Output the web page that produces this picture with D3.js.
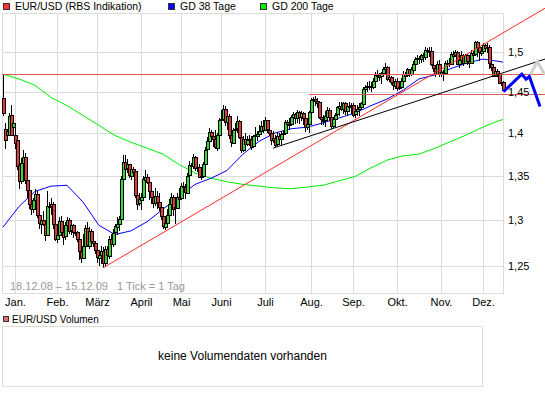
<!DOCTYPE html>
<html>
<head>
<meta charset="utf-8">
<script src="https://cdnjs.cloudflare.com/ajax/libs/d3/7.8.5/d3.min.js"></script>
<style>
body { margin: 0; background: #fff; }
svg { display: block; font-family: "Liberation Sans", Arial, sans-serif; }
</style>
</head>
<body>
<div id="chart"></div>
<script>
// EUR/USD daily candles, 18.12.08 - 15.12.09 (one entry per trading day)
const opens = [
  1.442,1.405,1.402,1.398,1.422,1.407,
  1.398,1.392,1.362,1.344,1.365,1.372,1.345,1.334,1.318,1.312,1.322,1.329,1.305,1.296,1.300,1.296,1.284,1.316,1.316,1.318,1.296,
  1.280,1.284,1.299,1.287,1.282,1.294,1.300,1.288,1.294,1.286,1.287,1.279,1.266,1.258,1.271,1.291,1.272,1.288,1.277,1.275,
  1.267,1.259,1.262,1.266,1.253,1.268,1.261,1.279,1.274,1.286,1.293,1.296,1.301,1.346,1.366,1.358,1.363,1.350,1.358,1.355,1.328,1.318,
  1.323,1.326,1.346,1.349,1.343,1.333,1.326,1.319,1.327,1.320,1.314,1.304,1.293,1.297,1.306,1.318,1.326,1.313,1.314,1.326,
  1.324,1.338,1.337,1.331,1.350,1.362,1.361,1.372,1.359,1.360,1.349,1.350,1.364,1.380,1.390,1.401,1.396,1.393,1.383,1.398,
  1.416,1.417,1.429,1.413,1.420,1.397,1.389,1.404,1.405,1.414,1.395,1.380,1.393,1.387,1.392,1.393,1.384,1.396,1.397,1.399,1.402,1.408,
  1.403,1.415,1.404,1.400,1.392,1.394,1.386,1.396,1.393,1.399,1.400,1.413,1.411,1.411,1.419,1.423,1.418,1.425,1.419,1.424,1.418,1.407,1.411,
  1.425,1.440,1.441,1.439,1.437,1.419,1.416,1.415,1.420,1.428,1.419,1.408,1.417,1.422,1.431,1.433,1.429,1.436,1.426,1.432,1.433,
  1.434,1.422,1.426,1.429,1.431,1.436,1.454,1.456,1.457,1.457,1.456,1.464,1.471,1.471,1.469,1.473,1.478,1.481,1.466,1.468,1.462,1.458,
  1.464,1.455,1.456,1.463,1.472,1.470,1.478,1.472,1.478,1.485,1.491,1.492,1.491,1.496,1.493,1.502,1.501,1.501,1.484,1.480,1.473,1.485,
  1.472,1.475,1.474,1.486,1.486,1.485,1.498,1.496,1.500,1.485,1.490,1.496,1.486,1.496,1.489,1.486,1.499,1.497,1.513,1.506,1.499,
  1.501,1.509,1.505,1.506,1.485,1.481,1.470,1.476,1.472,1.461,1.462
];
const highs = [
  1.472,1.412,1.405,1.424,1.434,1.414,
  1.409,1.394,1.366,1.370,1.380,1.376,1.348,1.336,1.324,1.325,1.335,1.333,1.311,1.305,1.310,1.298,1.333,1.320,1.325,1.320,1.300,
  1.290,1.303,1.304,1.290,1.298,1.303,1.302,1.298,1.296,1.292,1.288,1.280,1.270,1.285,1.294,1.298,1.292,1.290,1.283,1.277,
  1.270,1.265,1.272,1.270,1.272,1.272,1.282,1.285,1.290,1.296,1.303,1.304,1.350,1.374,1.374,1.369,1.364,1.362,1.360,1.356,1.330,1.330,
  1.330,1.350,1.357,1.352,1.345,1.336,1.330,1.336,1.332,1.330,1.318,1.306,1.302,1.312,1.323,1.330,1.328,1.320,1.330,1.336,
  1.342,1.343,1.340,1.353,1.367,1.365,1.375,1.373,1.367,1.364,1.356,1.366,1.383,1.395,1.406,1.404,1.400,1.403,1.400,1.418,
  1.428,1.434,1.433,1.424,1.423,1.399,1.406,1.412,1.420,1.415,1.396,1.396,1.400,1.396,1.398,1.396,1.398,1.407,1.402,1.410,1.414,1.416,
  1.419,1.416,1.408,1.402,1.402,1.398,1.401,1.400,1.402,1.404,1.416,1.416,1.418,1.422,1.425,1.424,1.428,1.427,1.426,1.425,1.419,1.418,1.427,
  1.442,1.444,1.445,1.442,1.439,1.421,1.422,1.426,1.431,1.430,1.420,1.418,1.424,1.433,1.437,1.437,1.438,1.437,1.434,1.437,1.436,
  1.436,1.430,1.434,1.436,1.438,1.456,1.458,1.462,1.463,1.462,1.467,1.475,1.477,1.474,1.475,1.481,1.486,1.482,1.472,1.470,1.465,1.466,
  1.467,1.462,1.467,1.476,1.475,1.480,1.479,1.481,1.488,1.494,1.496,1.495,1.497,1.499,1.506,1.505,1.506,1.506,1.487,1.482,1.488,1.490,
  1.482,1.477,1.488,1.490,1.492,1.500,1.501,1.503,1.501,1.492,1.501,1.497,1.498,1.498,1.492,1.502,1.501,1.514,1.514,1.508,1.505,
  1.511,1.510,1.511,1.509,1.486,1.483,1.478,1.478,1.476,1.465,1.463
];
const lows = [
  1.420,1.381,1.392,1.396,1.396,1.402,
  1.381,1.357,1.335,1.340,1.358,1.340,1.325,1.312,1.306,1.308,1.312,1.302,1.290,1.285,1.293,1.277,1.283,1.300,1.305,1.290,1.277,
  1.275,1.280,1.282,1.273,1.278,1.290,1.285,1.283,1.280,1.282,1.276,1.256,1.253,1.257,1.262,1.270,1.268,1.270,1.270,1.263,
  1.253,1.250,1.252,1.248,1.250,1.256,1.258,1.268,1.270,1.282,1.284,1.288,1.298,1.342,1.352,1.353,1.347,1.345,1.350,1.325,1.311,1.315,
  1.311,1.322,1.338,1.340,1.322,1.318,1.313,1.316,1.312,1.310,1.300,1.290,1.289,1.292,1.302,1.313,1.304,1.296,1.312,1.318,
  1.322,1.332,1.323,1.330,1.343,1.350,1.358,1.355,1.354,1.347,1.345,1.348,1.362,1.378,1.388,1.393,1.383,1.381,1.379,1.396,
  1.412,1.415,1.408,1.403,1.393,1.383,1.388,1.397,1.400,1.393,1.376,1.378,1.385,1.384,1.385,1.380,1.382,1.393,1.390,1.396,1.400,1.400,
  1.402,1.400,1.396,1.386,1.388,1.383,1.385,1.388,1.386,1.392,1.398,1.405,1.404,1.409,1.414,1.411,1.412,1.411,1.414,1.410,1.401,1.404,1.400,
  1.422,1.436,1.433,1.430,1.417,1.410,1.410,1.407,1.417,1.414,1.405,1.406,1.408,1.418,1.420,1.426,1.423,1.422,1.420,1.428,1.423,
  1.419,1.418,1.421,1.420,1.429,1.434,1.446,1.450,1.452,1.450,1.454,1.462,1.467,1.463,1.460,1.468,1.472,1.464,1.462,1.458,1.452,1.453,
  1.451,1.452,1.453,1.461,1.465,1.468,1.469,1.470,1.476,1.483,1.487,1.485,1.486,1.487,1.490,1.493,1.494,1.482,1.475,1.468,1.471,1.469,
  1.468,1.463,1.471,1.479,1.481,1.484,1.490,1.493,1.484,1.480,1.488,1.482,1.485,1.483,1.480,1.485,1.491,1.496,1.494,1.488,1.495,
  1.499,1.501,1.499,1.478,1.476,1.468,1.468,1.468,1.460,1.457,1.451
];
const closes = [
  1.424,1.392,1.397,1.421,1.398,1.412,
  1.388,1.362,1.344,1.365,1.372,1.345,1.334,1.318,1.312,1.322,1.329,1.305,1.296,1.300,1.296,1.284,1.316,1.316,1.318,1.296,1.280,
  1.284,1.299,1.287,1.282,1.294,1.300,1.288,1.294,1.286,1.287,1.279,1.266,1.258,1.271,1.291,1.272,1.288,1.277,1.275,1.267,
  1.259,1.262,1.266,1.253,1.268,1.261,1.279,1.274,1.286,1.293,1.296,1.301,1.346,1.366,1.358,1.363,1.350,1.358,1.355,1.328,1.318,1.323,
  1.326,1.346,1.349,1.343,1.333,1.326,1.319,1.327,1.320,1.314,1.304,1.293,1.297,1.306,1.318,1.326,1.313,1.314,1.326,1.324,
  1.338,1.337,1.331,1.350,1.362,1.361,1.372,1.359,1.360,1.349,1.350,1.364,1.380,1.390,1.401,1.396,1.393,1.383,1.398,1.416,
  1.417,1.429,1.413,1.420,1.397,1.389,1.404,1.405,1.414,1.395,1.380,1.393,1.387,1.392,1.393,1.384,1.396,1.397,1.399,1.402,1.408,1.403,
  1.415,1.404,1.400,1.392,1.394,1.386,1.396,1.393,1.399,1.400,1.413,1.411,1.411,1.419,1.423,1.418,1.425,1.419,1.424,1.418,1.407,1.411,1.425,
  1.440,1.441,1.439,1.437,1.419,1.416,1.415,1.420,1.428,1.419,1.408,1.417,1.422,1.431,1.433,1.429,1.436,1.426,1.432,1.433,1.434,
  1.422,1.426,1.429,1.431,1.436,1.454,1.456,1.457,1.457,1.456,1.464,1.471,1.471,1.469,1.473,1.478,1.481,1.466,1.468,1.462,1.458,1.464,
  1.455,1.456,1.463,1.472,1.470,1.478,1.472,1.478,1.485,1.491,1.492,1.491,1.496,1.493,1.502,1.501,1.501,1.484,1.480,1.473,1.485,1.472,
  1.475,1.474,1.486,1.486,1.485,1.498,1.496,1.500,1.485,1.490,1.496,1.486,1.496,1.489,1.486,1.499,1.497,1.513,1.506,1.499,1.501,
  1.509,1.505,1.506,1.485,1.481,1.470,1.476,1.472,1.461,1.462,1.452
];

// first trading day of each month (index into the arrays above)
const monthIdx = [6, 27, 47, 69, 89, 109, 131, 154, 175, 197, 219, 240];
const monthLabels = ['Jan.', 'Feb.', 'März', 'April', 'Mai', 'Juni', 'Juli', 'Aug.', 'Sep.', 'Okt.', 'Nov.', 'Dez.'];
const yTicks = [1.25, 1.3, 1.35, 1.4, 1.45, 1.5];

// moving averages, read every 8th trading day
const maIdx = [0,8,16,24,32,40,48,56,64,72,80,88,96,104,112,120,128,136,144,152,160,168,176,184,192,200,208,216,224,232,240,248,250];
const gd38 = [1.292,1.315,1.332,1.338,1.339,1.320,1.294,1.284,1.288,1.298,1.312,1.326,1.340,1.347,1.356,1.375,1.390,
  1.400,1.405,1.407,1.412,1.418,1.424,1.433,1.441,1.452,1.466,1.471,1.479,1.486,1.491,1.488,1.487];
const gd200 = [1.472,1.466,1.458,1.443,1.433,1.421,1.409,1.397,1.389,1.382,1.375,1.363,1.353,1.347,1.343,1.340,1.338,
  1.336,1.335,1.337,1.339,1.344,1.349,1.359,1.368,1.373,1.375,1.382,1.390,1.398,1.407,1.415,1.416];

// drawn annotations: [tick, price]
const levelLines = [[-0.5, 1.4722], [153, 1.447]];
const trendRed = [[50, 1.248], [271, 1.557]];
const trendBlack = [[135, 1.382], [271, 1.491]];
const projBlue = [[250.2, 1.450], [259.4, 1.472], [261.5, 1.4656], [263.2, 1.469], [268.5, 1.432]];
const projGray = [[263.5, 1.4709], [267.2, 1.4877], [271, 1.4709]];

const W = 545, H = 395;
const plotL = 2, plotR = 503, plotT = 13, plotB = 293;
const lastTick = 271;

const svg = d3.select('#chart').append('svg')
    .attr('width', W)
    .attr('height', H);

const x = d3.scaleLinear().domain([0, 250]).range([3, 503]);
const y = d3.scaleLog().domain([1.25, 1.5]).range([266, 52]);

// grid
const grid = svg.append('g')
    .attr('stroke', '#dcdcdc')
    .attr('shape-rendering', 'crispEdges');

grid.selectAll('.hg').data(yTicks).enter().append('line')
    .attr('x1', plotL).attr('x2', plotR)
    .attr('y1', d => Math.round(y(d)) + 0.5)
    .attr('y2', d => Math.round(y(d)) + 0.5);

grid.selectAll('.vg').data(monthIdx).enter().append('line')
    .attr('x1', d => Math.round(x(d)) + 0.5)
    .attr('x2', d => Math.round(x(d)) + 0.5)
    .attr('y1', plotT).attr('y2', plotB);

grid.append('rect')
    .attr('x', plotL + 0.5).attr('y', plotT + 0.5)
    .attr('width', plotR - plotL).attr('height', plotB - plotT)
    .attr('fill', 'none');

// moving averages
const maLine = d3.line()
    .x(d => x(d[0]))
    .y(d => y(d[1]));

svg.append('path')
    .datum(maIdx.map((d, i) => [d, gd200[i]]))
    .attr('d', maLine)
    .attr('fill', 'none')
    .attr('stroke', '#00ee00')
    .attr('stroke-width', 1);

svg.append('path')
    .datum(maIdx.map((d, i) => [d, gd38[i]]))
    .attr('d', maLine)
    .attr('fill', 'none')
    .attr('stroke', '#0000ff')
    .attr('stroke-width', 1);

// candles
const candles = svg.append('g')
    .attr('shape-rendering', 'crispEdges');

const days = d3.range(closes.length);

candles.selectAll('.wick').data(days).enter().append('line')
    .attr('x1', i => Math.round(x(i)) + 0.5)
    .attr('x2', i => Math.round(x(i)) + 0.5)
    .attr('y1', i => y(highs[i]))
    .attr('y2', i => y(lows[i]))
    .attr('stroke', '#000');

candles.selectAll('.body').data(days).enter().append('rect')
    .attr('x', i => Math.round(x(i)) - 0.5)
    .attr('width', 3)
    .attr('y', i => Math.round(Math.min(y(opens[i]), y(closes[i]))) + 0.5)
    .attr('height', i => Math.max(1, Math.round(Math.abs(y(opens[i]) - y(closes[i])))))
    .attr('fill', i => closes[i] >= opens[i] ? '#33dd33' : '#e03a3a')
    .attr('stroke', '#000')
    .attr('stroke-width', 1);

// level and trend lines
svg.selectAll('.level').data(levelLines).enter().append('line')
    .attr('x1', d => x(d[0]))
    .attr('x2', x(lastTick))
    .attr('y1', d => Math.round(y(d[1])) + 0.5)
    .attr('y2', d => Math.round(y(d[1])) + 0.5)
    .attr('stroke', '#e05a5a')
    .attr('shape-rendering', 'crispEdges');

const seg = d3.line()
    .x(d => x(d[0]))
    .y(d => y(d[1]));

svg.append('path')
    .datum(trendRed)
    .attr('d', seg)
    .attr('stroke', '#ff2a2a')
    .attr('fill', 'none');

svg.append('path')
    .datum(trendBlack)
    .attr('d', seg)
    .attr('stroke', '#000')
    .attr('fill', 'none');

// axes
const xAxis = d3.axisBottom(x)
    .tickValues(monthIdx)
    .tickFormat((d, i) => monthLabels[i])
    .tickSize(0)
    .tickPadding(5);

const gx = svg.append('g')
    .attr('transform', `translate(0,${plotB})`)
    .call(xAxis);
gx.select('.domain').remove();
gx.selectAll('text')
    .attr('font-size', 11)
    .attr('font-family', '"Liberation Sans", Arial, sans-serif')
    .attr('fill', '#000');

const yAxis = d3.axisRight(y)
    .tickValues(yTicks)
    .tickFormat(d => String(d).replace('.', ','))
    .tickSize(0)
    .tickPadding(5);

const gy = svg.append('g')
    .attr('transform', `translate(${plotR},0)`)
    .call(yAxis);
gy.select('.domain').remove();
gy.selectAll('text')
    .attr('font-size', 11)
    .attr('font-family', '"Liberation Sans", Arial, sans-serif')
    .attr('fill', '#000');

// projection marks beyond the last candle
svg.append('path')
    .datum(projGray)
    .attr('d', seg)
    .attr('stroke', '#d0d0d0')
    .attr('stroke-width', 3)
    .attr('fill', 'none');

svg.append('path')
    .datum(projBlue)
    .attr('d', seg)
    .attr('stroke', '#0000ff')
    .attr('stroke-width', 3)
    .attr('stroke-linejoin', 'miter')
    .attr('fill', 'none');

// period note
svg.append('text')
    .attr('x', 10).attr('y', 290)
    .attr('font-size', 11)
    .attr('fill', '#999')
    .text('18.12.08 \u2013 15.12.09');

svg.append('text')
    .attr('x', 117).attr('y', 290)
    .attr('font-size', 11)
    .attr('fill', '#999')
    .text('1 Tick = 1 Tag');

// legend
const legend = [
  { label: 'EUR/USD (RBS Indikation)', color: '#ff3333', x: 3 },
  { label: 'GD 38 Tage', color: '#0000ff', x: 168 },
  { label: 'GD 200 Tage', color: '#00ee00', x: 260 }
];

const lg = svg.selectAll('.lg').data(legend).enter().append('g')
    .attr('transform', d => `translate(${d.x},0)`);

lg.append('rect')
    .attr('x', 0.5).attr('y', 3.5)
    .attr('width', 6).attr('height', 6)
    .attr('fill', d => d.color)
    .attr('stroke', '#333')
    .attr('shape-rendering', 'crispEdges');

lg.append('text')
    .attr('x', 12).attr('y', 10)
    .attr('font-size', 10.5)
    .attr('fill', '#000')
    .text(d => d.label);

// volume panel
svg.append('rect')
    .attr('x', 3.5).attr('y', 316.5)
    .attr('width', 5).attr('height', 5)
    .attr('fill', '#d9706a')
    .attr('stroke', '#333')
    .attr('shape-rendering', 'crispEdges');

svg.append('text')
    .attr('x', 12).attr('y', 323)
    .attr('font-size', 10)
    .attr('fill', '#000')
    .text('EUR/USD Volumen');

svg.append('rect')
    .attr('x', 2.5).attr('y', 326.5)
    .attr('width', 480).attr('height', 60)
    .attr('fill', 'none')
    .attr('stroke', '#dcdcdc')
    .attr('shape-rendering', 'crispEdges');

svg.append('text')
    .attr('x', 242.5).attr('y', 360)
    .attr('text-anchor', 'middle')
    .attr('font-size', 12)
    .attr('fill', '#000')
    .text('keine Volumendaten vorhanden');
</script>
</body>
</html>
